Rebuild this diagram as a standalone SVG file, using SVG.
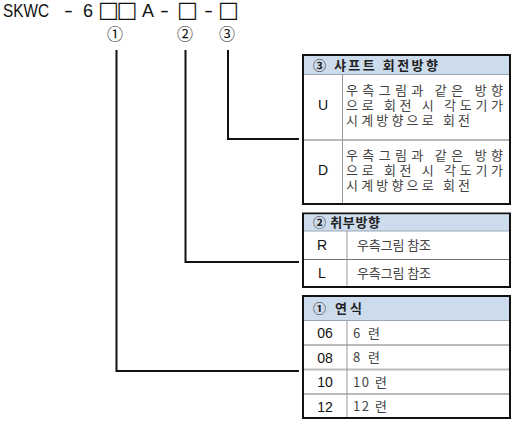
<svg xmlns="http://www.w3.org/2000/svg" width="515" height="423" viewBox="0 0 515 423">
<style>
.frame{fill:#fff;stroke:#111;stroke-width:2}
.hdr{fill:#cddcec}
.hline{stroke:#9aa6b4;stroke-width:1}
.row{stroke:#777;stroke-width:1}
.rowl{stroke:#bbb;stroke-width:2}
.col{stroke:#999;stroke-width:1}
.conn{fill:none;stroke:#111;stroke-width:2}
.ko{font-family:"Noto Sans CJK KR","Liberation Sans",sans-serif;font-size:13px;fill:#444}
.hd{font-family:"Noto Sans CJK KR","Liberation Sans",sans-serif;font-size:13px;font-weight:bold;fill:#222}
.code{font-family:"Liberation Sans","Noto Sans CJK KR",sans-serif;font-size:14px;fill:#111;text-anchor:middle}
.top{font-family:"Liberation Sans","Noto Sans CJK KR",sans-serif;font-size:18px;fill:#111}
.sq{font-family:"DejaVu Sans",sans-serif;font-size:22px;fill:#111}
.circ{font-family:"Noto Sans CJK KR",sans-serif;font-size:16px;fill:#111;text-anchor:middle}
</style>

<g id="title">
<text class="top" y="17"><tspan x="3" textLength="46" lengthAdjust="spacingAndGlyphs">SKWC</tspan><tspan x="64" textLength="9" lengthAdjust="spacingAndGlyphs">-</tspan><tspan x="83">6</tspan><tspan class="sq" x="98" y="17">□</tspan><tspan class="sq" x="116.5" y="17">□</tspan><tspan x="142" y="17">A</tspan><tspan x="160" textLength="9" lengthAdjust="spacingAndGlyphs">-</tspan><tspan class="sq" x="177" y="17">□</tspan><tspan x="204" y="17" textLength="9" lengthAdjust="spacingAndGlyphs">-</tspan><tspan class="sq" x="218" y="17">□</tspan></text>
<text class="circ" x="115" y="40">①</text>
<text class="circ" x="185" y="40">②</text>
<text class="circ" x="227" y="40">③</text>
</g>

<g id="connectors">
<polyline class="conn" points="116.5,50 116.5,371 299,371"/>
<polyline class="conn" points="185.5,50 185.5,262 299,262"/>
<polyline class="conn" points="228,50 228,139 299,139"/>
</g>

<g id="table-shaft">
<rect class="frame" x="303" y="55" width="207" height="149"/>
<rect class="hdr" x="304" y="56" width="205" height="18.5"/>
<line class="hline" x1="304" y1="74.5" x2="509" y2="74.5"/>
<line class="row" x1="304" y1="140" x2="509" y2="140"/>
<line class="col" x1="342.5" y1="74.5" x2="342.5" y2="203"/>
<text class="hd" x="313" y="69.5" textLength="125">③ 샤프트 회전방향</text>
<text class="code" x="323" y="110">U</text>
<text class="ko" x="346" y="94.5" textLength="157">우측그림과 같은 방향</text>
<text class="ko" x="346" y="109.5" textLength="157">으로 회전 시 각도기가</text>
<text class="ko" x="346" y="124.5" textLength="124">시계방향으로 회전</text>
<text class="code" x="323" y="175">D</text>
<text class="ko" x="346" y="159.5" textLength="157">우측그림과 같은 방향</text>
<text class="ko" x="346" y="174.5" textLength="157">으로 회전 시 각도기가</text>
<text class="ko" x="346" y="189.5" textLength="124">시계방향으로 회전</text>
</g>

<g id="table-mount">
<rect class="frame" x="303" y="213.5" width="207" height="73.5"/>
<rect class="hdr" x="304" y="214.5" width="205" height="16.5"/>
<line class="hline" x1="304" y1="231" x2="509" y2="231"/>
<line class="row" x1="304" y1="259.5" x2="509" y2="259.5"/>
<line class="col" x1="347" y1="231" x2="347" y2="286"/>
<text class="hd" x="313" y="226.5" textLength="67">② 취부방향</text>
<text class="code" x="322" y="250">R</text>
<text class="ko" x="357" y="249.5" textLength="74">우측그림 참조</text>
<text class="code" x="322" y="278">L</text>
<text class="ko" x="357" y="277.5" textLength="74">우측그림 참조</text>
</g>

<g id="table-series">
<rect class="frame" x="303" y="296" width="207" height="122"/>
<rect class="hdr" x="304" y="297" width="205" height="23.5"/>
<line class="hline" x1="304" y1="320.5" x2="509" y2="320.5"/>
<line class="row" x1="304" y1="345" x2="509" y2="345"/>
<line class="rowl" x1="304" y1="369.5" x2="509" y2="369.5"/>
<line class="row" x1="304" y1="394" x2="509" y2="394"/>
<line class="col" x1="347" y1="320.5" x2="347" y2="417"/>
<text class="hd" x="313" y="312.5" textLength="49">① 연식</text>
<text class="code" x="325" y="338">06</text>
<text class="ko" x="353" y="337.5" textLength="27">6 련</text>
<text class="code" x="325" y="362.5">08</text>
<text class="ko" x="353" y="362" textLength="27">8 련</text>
<text class="code" x="325" y="387">10</text>
<text class="ko" x="353" y="386.5" textLength="34">10 련</text>
<text class="code" x="325" y="411.5">12</text>
<text class="ko" x="353" y="411" textLength="34">12 련</text>
</g>
</svg>
